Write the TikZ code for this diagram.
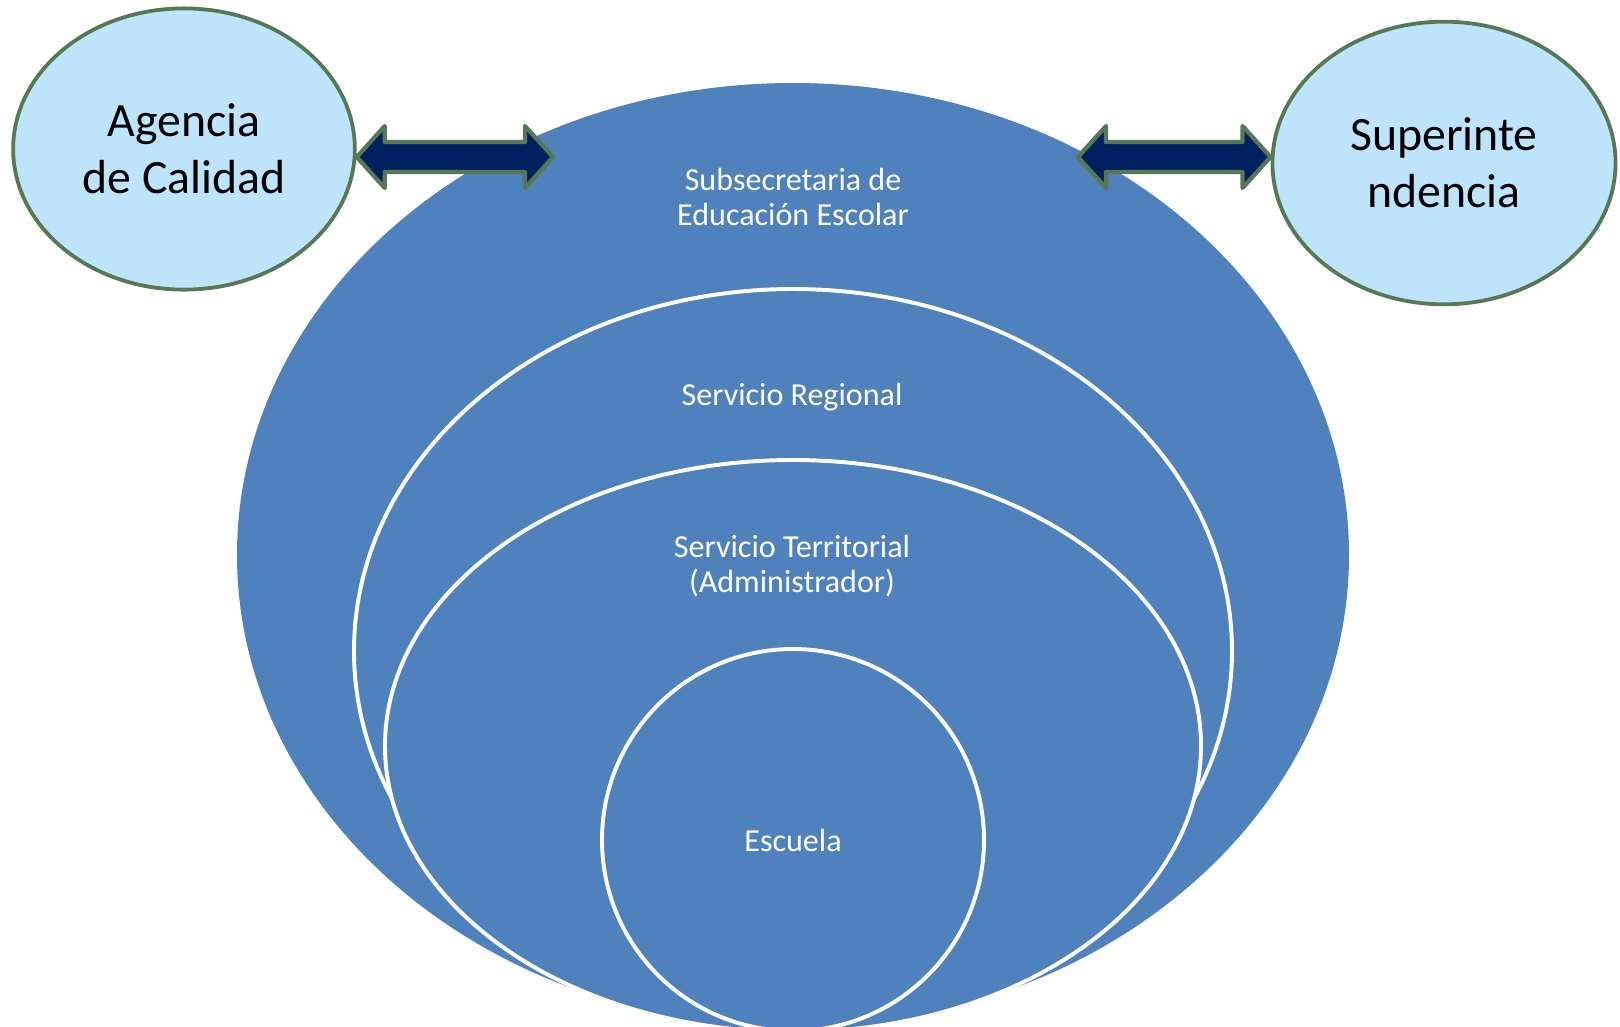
\documentclass[tikz,border=0pt]{standalone}
\usepackage{fontspec}
\setmainfont{Carlito}
\usetikzlibrary{calc,shapes.geometric}
\definecolor{azul}{RGB}{79,129,189}
\definecolor{celeste}{RGB}{190,228,252}
\definecolor{verde}{RGB}{86,120,84}
\definecolor{marino}{RGB}{0,32,96}
\tikzset{
	outer/.style={ellipse, draw=verde, line width=2.7pt, fill=celeste, inner sep=0pt,
		font=\fontsize{34}{40.5}\selectfont, align=center},
	inner/.style={draw=white, line width=2.8pt, fill=azul},
	lbl/.style={text=white, font=\fontsize{22.8}{25}\selectfont, align=center},
	dblarrow/.style={draw=verde, line width=3pt, fill=marino, line join=round}
}
\begin{document}
\begin{tikzpicture}[x=0.025cm, y=-0.025cm]
	\useasboundingbox (0,0) rectangle (1620,1027);

	\fill[azul] (793,555) ellipse [x radius=556, y radius=472];
	\draw[inner] (793,651) ellipse [x radius=439, y radius=362];
	\draw[inner] (793,746) ellipse [x radius=408, y radius=286];
	\draw[inner] (793,840) circle [radius=191];

	\node[lbl] (sub) at (793,197) {Subsecretaria de\\Educación Escolar};
	\node[lbl] (reg) at (792,397) {Servicio Regional};
	\node[lbl] (ter) at (792,566) {Servicio Territorial\\(Administrador)};
	\node[lbl] (esc) at (793,840) {Escuela};

	\node[outer, minimum width=243pt, minimum height=200pt] (agencia) at (184,149) {Agencia\\de Calidad};
	\node[outer, minimum width=244pt, minimum height=201pt] (super) at (1444,163) {Superinte\\ndencia};

	\coordinate (aL) at (agencia.east |- 0,157);
	\coordinate (aR) at (553,157);
	\coordinate (bL) at (1078,157);
	\coordinate (bR) at (super.west |- 0,157);

	\draw[dblarrow] (aL) -- ++(28,-31) -- ++(0,16) -- ($(aR)+(-28,-15)$) -- ++(0,-16) -- (aR)
		-- ++(-28,31) -- ++(0,-16) -- ($(aL)+(28,15)$) -- ++(0,16) -- cycle;
	\draw[dblarrow] (bL) -- ++(28,-31) -- ++(0,16) -- ($(bR)+(-28,-15)$) -- ++(0,-16) -- (bR)
		-- ++(-28,31) -- ++(0,-16) -- ($(bL)+(28,15)$) -- ++(0,16) -- cycle;
\end{tikzpicture}
\end{document}
